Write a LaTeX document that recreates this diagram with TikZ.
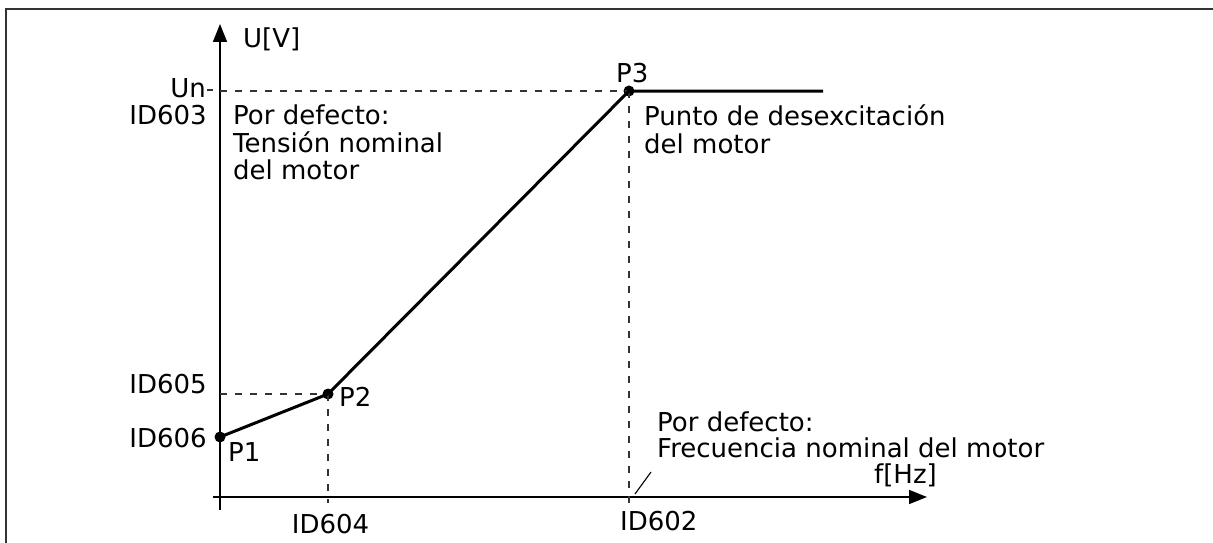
\documentclass[tikz,border=0pt]{standalone}
\usepackage{fontspec}
\setmainfont{DejaVu Sans}
\usetikzlibrary{arrows.meta}
\begin{document}
\begin{tikzpicture}[x=1pt,y=-1pt,
  lbl/.style={inner sep=0pt, font=\fontsize{26}{27.5}\selectfont},
  note/.style={lbl, align=left, anchor=north west},
  axis/.style={line width=1.6pt, -{Triangle[length=18pt,width=14pt]}},
  guide/.style={line width=1.3pt, black!80, dash pattern=on 7pt off 8pt},
  curve/.style={line width=3pt},
  dot/.style={circle, fill=black, inner sep=0pt, minimum size=11pt},
  frame/.style={line width=2pt, black!80},
  thin/.style={line width=1.1pt}
]
\useasboundingbox (0,0) rectangle (1213,543);
\draw[frame] (6,543) -- (6,9.5) -- (1213,9.5);

% axes
\coordinate (ybot) at (220,510);
\coordinate (ytop) at (220,24);
\coordinate (xleft) at (213,497);
\coordinate (xright) at (927,497);
\draw[axis] (ybot) -- (ytop);
\draw[axis] (xleft) -- (xright);

% points
\node[dot] (P1) at (220,437) {};
\node[dot] (P2) at (328,394) {};
\node[dot] (P3) at (629,91) {};
\coordinate (end) at (823,91);
\coordinate (unaxis) at (220,91);
\coordinate (p2axis) at (220,394);
\coordinate (p2foot) at (328,503);
\coordinate (p3foot) at (629,506);

% guides
\draw[guide] (unaxis) -- (P3.center);
\draw[guide] (P3.center) -- (p3foot);
\draw[guide] (p2axis) -- (P2.center);
\draw[guide] (P2.center) -- (p2foot);
\coordinate (tickL) at (207,90);
\coordinate (tickR) at (213,90);
\draw[thin, black!80] (tickL) -- (tickR);

% curve
\draw[curve] (P1.center) -- (P2.center) -- (P3.center) -- (end);

% labels
\node[lbl, anchor=base west] (uv) at (243,48) {U[V]};
\node[lbl, anchor=base east] (un) at (206,97) {Un};
\node[lbl, anchor=base east] (id603) at (207,124) {ID603};
\node[note] (tens) at (233,105) {Por defecto:\\Tensión nominal\\del motor};
\node[lbl, anchor=base east] (id605) at (207,393) {ID605};
\node[lbl, anchor=base east] (id606) at (207,447) {ID606};
\node[lbl, anchor=base west] (p1l) at (228,461) {P1};
\node[lbl, anchor=base west] (p2l) at (339,406) {P2};
\node[lbl, anchor=base west] (p3l) at (616,82) {P3};
\node[note] (punto) at (644,105) {Punto de desexcitación\\del motor};
\node[note, font=\fontsize{26}{26}\selectfont] (freq) at (657,412) {Por defecto:\\Frecuencia nominal del motor};
\node[lbl, anchor=base east] (fhz) at (937,483) {f[Hz]};
\node[lbl, anchor=base] (id604) at (330.5,533) {ID604};
\node[lbl, anchor=base west] (id602) at (620,530) {ID602};

% slash
\coordinate (s1) at (635,494);
\coordinate (s2) at (651,472);
\draw[thin] (s1) -- (s2);
\end{tikzpicture}
\end{document}
